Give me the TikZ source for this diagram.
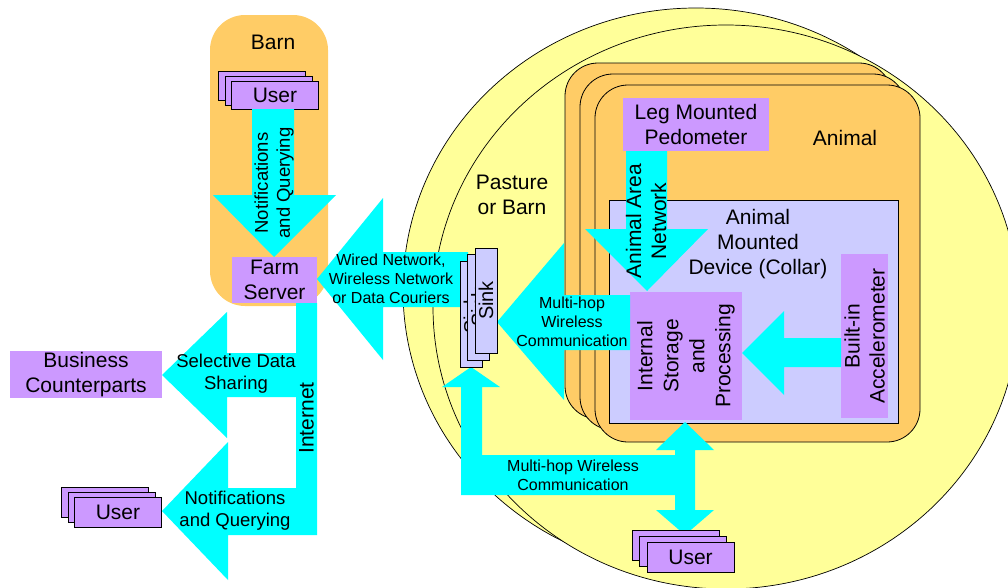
\documentclass[tikz,border=0pt]{standalone}
\usepackage{fontspec}
\setmainfont{Liberation Sans}
\definecolor{orng}{HTML}{FFCC66}
\definecolor{purp}{HTML}{CC99FF}
\definecolor{lav}{HTML}{CCCCFF}
\definecolor{cyn}{HTML}{00FFFF}
\definecolor{yel}{HTML}{FFFF99}
\tikzset{
  lbl/.style={font=\fontsize{21}{25}\selectfont, align=center, inner sep=0pt},
  mid/.style={font=\fontsize{18.5}{22}\selectfont, align=center, inner sep=0pt},
  sml/.style={font=\fontsize{16}{19}\selectfont, align=center, inner sep=0pt},
  box/.style={rectangle, inner sep=0pt, outer sep=0pt},
  pbox/.style={box, fill=purp},
  ubox/.style={box, fill=purp, draw=black, line width=0.8pt, minimum width=87pt, minimum height=29pt},
  sbox/.style={box, fill=lav, draw=black, line width=0.8pt, minimum width=22pt, minimum height=105pt},
  anim/.style={box, fill=orng, draw=black, line width=0.8pt, rounded corners=33pt},
  pasture/.style={fill=yel, draw=black, line width=0.7pt},
  arr/.style={fill=cyn, draw=none},
}
\begin{document}
\begin{tikzpicture}[x=1pt,y=-1pt]
\clip (0,0) rectangle (1008,587);
% pasture
\path[pasture] (696,290) ellipse [x radius=293pt, y radius=282pt];
\path[pasture] (726,307) ellipse [x radius=293pt, y radius=282pt];
\node[lbl] (pastxt) at (512,195) {Pasture\\or Barn};
% animal stack
\node[anim, minimum width=327pt, minimum height=356pt] (animA) at (728.5,241) {};
\node[anim, minimum width=326pt, minimum height=356pt] (animB) at (743,252) {};
\node[anim, minimum width=325pt, minimum height=357pt] (animC) at (757.5,263.5) {};
\node[lbl] (animtxt) at (845,138) {Animal};
\node[pbox, lbl, minimum width=146pt, minimum height=53pt] (pedo) at (696,124.5) {Leg Mounted\\Pedometer};
\node[box, fill=lav, draw=black, line width=0.8pt, minimum width=289pt, minimum height=223pt] (dev) at (753.5,311.5) {};
\node[lbl] (devtxt) at (758,244) {Animal\\Mounted\\Device (Collar)};
\node[pbox, minimum width=112pt, minimum height=128pt] (store) at (686,356) {};
\node[lbl, rotate=90, font=\fontsize{21}{26}\selectfont] (storetxt) at (store.center) {Internal\\Storage\\and\\Processing};
\node[pbox, minimum width=47pt, minimum height=164pt] (accel) at (864.5,336) {};
\node[lbl, rotate=90] (acceltxt) at (accel.center) {Built-in\\Accelerometer};
% animal area network arrow
\path[arr] (626,151) -- (667,151) -- (667,229) -- (708,229) -- (647,291) -- (585,229) -- (626,229) -- cycle;
\node[lbl, rotate=90] (aantxt) at (646,221) {Animal Area\\Network};
% accelerometer arrow
\path[arr] (841,338) -- (841,367) -- (784,367) -- (784,395) -- (742,353) -- (784,311) -- (784,338) -- cycle;
% multi-hop to sink
\path[arr] (630,295) -- (630,350) -- (564,350) -- (564,400) -- (497,322) -- (564,243) -- (564,295) -- cycle;
\node[sml] (mh1txt) at (572,322) {Multi-hop\\Wireless\\Communication};
% bottom multi-hop L arrow
\path[arr] (471,367) -- (500,387) -- (482,387) -- (482,455) -- (675,455) -- (675,450) -- (656,450) -- (685,422)
  -- (714,450) -- (695,450) -- (695,510) -- (714,510) -- (685,535) -- (656,510) -- (675,510) -- (675,495)
  -- (461,495) -- (461,387) -- (442,387) -- cycle;
\node[sml] (mh2txt) at (573,475) {Multi-hop Wireless\\Communication};
% bottom user stack
\node[ubox, minimum height=30pt] (ub1) at (676,545) {};
\node[ubox, minimum height=30pt] (ub2) at (683,551) {};
\node[ubox, minimum height=30pt, lbl] (ub3) at (690.5,557) {User};
% barn
\node[box, fill=orng, rounded corners=35pt, minimum width=118pt, minimum height=291pt] (barn) at (269,160.5) {};
\node[lbl] (barntxt) at (273,42) {Barn};
\node[ubox] (u1) at (262,85.5) {};
\node[ubox] (u2) at (269,90.5) {};
\node[ubox, minimum height=28pt, lbl] (u3) at (275,95) {User};
\path[arr] (252,109) -- (294,109) -- (294,195) -- (336,195) -- (274,257) -- (213,195) -- (252,195) -- cycle;
\node[mid, rotate=90] (nq1txt) at (274,183) {Notifications\\and Querying};
\node[pbox, lbl, minimum width=85pt, minimum height=46pt] (server) at (274.5,280) {Farm\\Server};
% wired network arrow
\path[arr] (468,252) -- (468,307) -- (383,307) -- (383,360) -- (317,279) -- (383,198) -- (383,252) -- cycle;
\node[sml] (wiredtxt) at (391,279) {Wired Network,\\Wireless Network\\or Data Couriers};
% sink stack
\node[sbox, minimum height=106pt] (s1) at (471,314) {};
\node[lbl, rotate=90, font=\fontsize{20}{24}\selectfont] at (s1.center) {Sink};
\node[sbox, minimum height=106pt] (s2) at (478.5,307) {};
\node[lbl, rotate=90, font=\fontsize{20}{24}\selectfont] at (s2.center) {Sink};
\node[sbox] (s3) at (486,300.5) {};
\node[lbl, rotate=90, font=\fontsize{20}{24}\selectfont] (sinktxt) at (s3.center) {Sink};
% internet, selective sharing, notifications
\path[arr] (296,303) -- (317,303) -- (317,535) -- (228,535) -- (228,580) -- (162,511) -- (228,442) -- (228,488)
  -- (296,488) -- (296,397) -- (227,397) -- (227,438) -- (162,375) -- (227,312) -- (227,353) -- (296,353) -- cycle;
\node[lbl, rotate=90] (inettxt) at (306.5,418) {Internet};
\node[mid] (seltxt) at (236,374) {Selective Data\\Sharing};
\node[mid] (nq2txt) at (235,511) {Notifications\\and Querying};
\node[pbox, lbl, minimum width=152pt, minimum height=47pt] (biz) at (86,374.5) {Business\\Counterparts};
\node[ubox, minimum height=30pt] (ul1) at (104.5,502) {};
\node[ubox, minimum height=30pt] (ul2) at (112,507) {};
\node[ubox, minimum height=30pt, lbl] (ul3) at (118,512) {User};
\end{tikzpicture}
\end{document}
